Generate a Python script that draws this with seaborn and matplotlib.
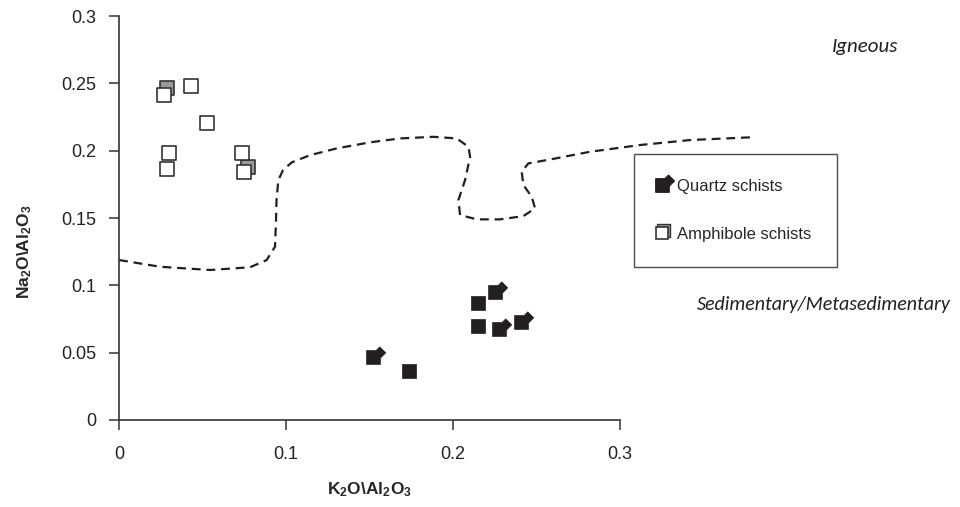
import matplotlib
matplotlib.use("Agg")
import matplotlib.pyplot as plt
import seaborn as sns
from matplotlib.path import Path
from matplotlib.lines import Line2D
from matplotlib.legend_handler import HandlerTuple
from matplotlib import font_manager

# --- data ---
quartz_x = [0.1519, 0.1737, 0.2148, 0.2251, 0.2148, 0.2275, 0.2407]
quartz_y = [0.0470, 0.0366, 0.0871, 0.0952, 0.0700, 0.0678, 0.0725]
quartz_tip = [True, False, False, True, False, True, True]

amph_x = [0.0271, 0.0431, 0.0529, 0.0301, 0.0287, 0.0738, 0.0750]
amph_y = [0.2413, 0.2480, 0.2207, 0.1984, 0.1861, 0.1980, 0.1839]
amph_back_x = [0.0286, 0.0774]
amph_back_y = [0.2467, 0.1880]

boundary_x = [0.0, 0.0246, 0.0545, 0.0784, 0.0884, 0.0934, 0.0940, 0.0943, 0.0954,
              0.0982, 0.1034, 0.1144, 0.1304, 0.1503, 0.1683, 0.1882, 0.2022, 0.2092,
              0.2102, 0.2072, 0.2032, 0.2042, 0.2142, 0.2281, 0.2421, 0.2491, 0.2471,
              0.2421, 0.2411, 0.2451, 0.2561, 0.2820, 0.3120, 0.3419, 0.3778]
boundary_y = [0.1188, 0.1138, 0.1114, 0.1134, 0.1188, 0.1287, 0.1485, 0.1633, 0.1782,
              0.1856, 0.1913, 0.1967, 0.2017, 0.2062, 0.2091, 0.2103, 0.2091, 0.2029,
              0.1955, 0.1782, 0.1633, 0.1522, 0.1490, 0.1490, 0.1514, 0.1572, 0.1658,
              0.1745, 0.1843, 0.1906, 0.1930, 0.1992, 0.2042, 0.2079, 0.2099]

x_ticks = [0, 0.1, 0.2, 0.3]
x_tick_labels = ["0", "0.1", "0.2", "0.3"]
y_ticks = [0, 0.05, 0.1, 0.15, 0.2, 0.25, 0.3]
y_tick_labels = ["0", "0.05", "0.1", "0.15", "0.2", "0.25", "0.3"]


def pick_font(*names):
    have = {f.name for f in font_manager.fontManager.ttflist}
    for n in names:
        if n in have:
            return n
    return "DejaVu Sans"


sns.set_theme(style="ticks")
sans = pick_font("Liberation Sans Narrow", "Liberation Sans", "Arial")
italic_font = pick_font("Carlito", "Lato", "Open Sans")
plt.rcParams["font.family"] = [sans, "DejaVu Sans"]
plt.rcParams["mathtext.default"] = "regular"

# square with a diamond poking out of its top-right corner (quartz marker)
tip_marker = Path([(-1, -1), (1, -1), (1, -0.09), (1.76, 0.67), (0.9, 1.53),
                   (0.37, 1), (-1, 1), (-1, -1)], closed=True)
# square shifted up-right, used as the grey "shadow" in the legend
shadow_marker = Path([(-0.75, -0.6), (1.25, -0.6), (1.25, 1.4), (-0.75, 1.4),
                      (-0.75, -0.6)], closed=True)

fig = plt.figure(figsize=(9.6, 5.07), dpi=100)
ax = fig.add_axes([0.124, 0.1716, 0.5219, 0.7968])

ink = "#231f20"

# boundary between igneous and sedimentary fields
sns.lineplot(x=boundary_x, y=boundary_y, sort=False, estimator=None, ax=ax,
             color=ink, linewidth=1.6, linestyle=(0, (4, 2.6)), clip_on=False)

# amphibole schists: grey squares behind, white on top
sns.scatterplot(x=amph_back_x, y=amph_back_y, marker="s", s=100, color="#9a9a9a",
                edgecolor="#333333", linewidth=1.2, ax=ax, zorder=3)
sns.scatterplot(x=amph_x, y=amph_y, marker="s", s=100, color="white",
                edgecolor="#333333", linewidth=1.2, ax=ax, zorder=4)

# quartz schists
qx_plain = [x for x, t in zip(quartz_x, quartz_tip) if not t]
qy_plain = [y for y, t in zip(quartz_y, quartz_tip) if not t]
qx_tip = [x for x, t in zip(quartz_x, quartz_tip) if t]
qy_tip = [y for y, t in zip(quartz_y, quartz_tip) if t]
sns.scatterplot(x=qx_plain, y=qy_plain, marker="s", s=100, color=ink,
                edgecolor=ink, linewidth=0.5, ax=ax, zorder=4)
sns.scatterplot(x=qx_tip, y=qy_tip, marker=tip_marker, s=310, color=ink,
                edgecolor=ink, linewidth=0.5, ax=ax, zorder=4)

ax.set_xlim(0, 0.3)
ax.set_ylim(0, 0.3)
ax.set_xticks(x_ticks)
ax.set_xticklabels(x_tick_labels)
ax.set_yticks(y_ticks)
ax.set_yticklabels(y_tick_labels)
ax.tick_params(direction="out", length=7.5, width=1.1, color="#333333",
               labelsize=13, labelcolor="#222222")
ax.tick_params(axis="y", pad=9)
ax.tick_params(axis="x", pad=11)
for side in ["left", "bottom"]:
    ax.spines[side].set_color("#333333")
    ax.spines[side].set_linewidth(1.2)
sns.despine(ax=ax)

ax.set_xlabel(r"K$_2$O\Al$_2$O$_3$", fontsize=12.5, fontweight="bold")
ax.set_ylabel(r"Na$_2$O\Al$_2$O$_3$", fontsize=12.5, fontweight="bold")
ax.xaxis.label.set_va("center")
ax.xaxis.set_label_coords(0.5, -0.173)
ax.yaxis.label.set_va("center")
ax.yaxis.set_label_coords(-0.188, 0.416)

ax.text(0.427, 0.277, "Igneous", fontsize=15, style="italic", family=italic_font,
        va="center", ha="left", color=ink, clip_on=False)
ax.text(0.346, 0.0854, "Sedimentary/Metasedimentary", fontsize=14.4, style="italic",
        family=italic_font, va="center", ha="left", color=ink, clip_on=False)

quartz_handle = Line2D([], [], linestyle="none", marker=tip_marker, markersize=17,
                       markerfacecolor=ink, markeredgecolor=ink)
amph_shadow = Line2D([], [], linestyle="none", marker=shadow_marker, markersize=13,
                     markerfacecolor="#9a9a9a", markeredgecolor="#333333", markeredgewidth=1)
amph_front = Line2D([], [], linestyle="none", marker="s", markersize=8.5,
                    markerfacecolor="white", markeredgecolor="#333333", markeredgewidth=1.2)
leg = ax.legend([quartz_handle, (amph_shadow, amph_front)],
                ["Quartz schists", "Amphibole schists"],
                handler_map={tuple: HandlerTuple(ndivide=1, pad=0)},
                loc="upper left", bbox_to_anchor=(1.028, 0.658), fontsize=12,
                frameon=True, fancybox=False, edgecolor=ink, borderpad=1.5,
                labelspacing=1.95, handlelength=0.3, handletextpad=0.8,
                borderaxespad=0)
leg.get_frame().set_linewidth(1.0)

fig.savefig("out.png", dpi=100)
